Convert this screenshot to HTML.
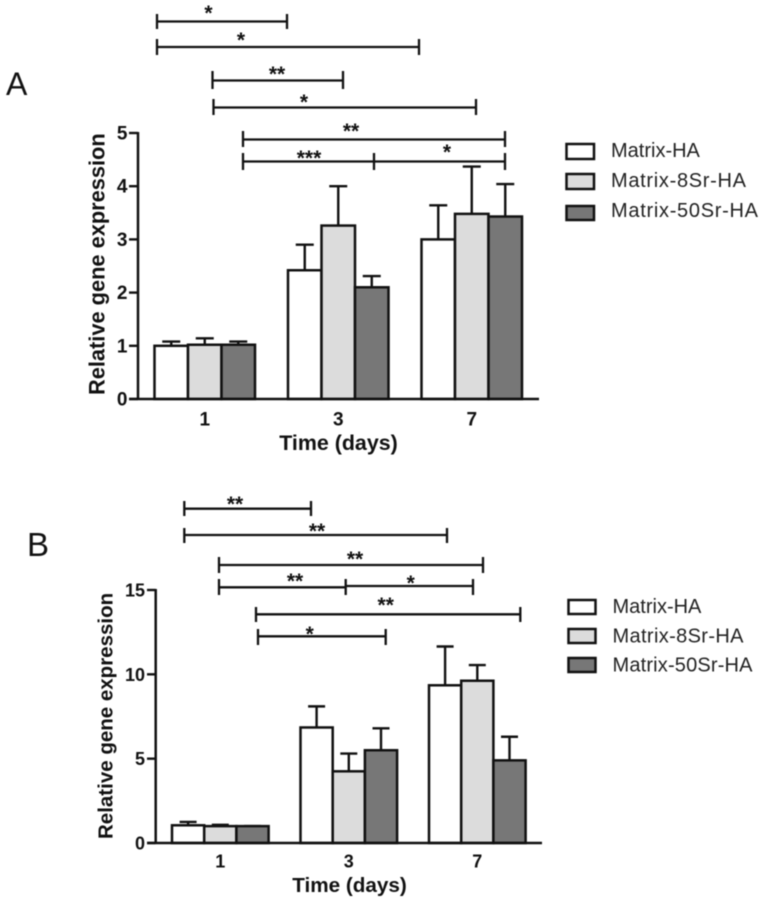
<!DOCTYPE html>
<html lang="en">
<head>
<meta charset="utf-8">
<title>Relative gene expression</title>
<style>
html,body{margin:0;padding:0;background:#fff;width:766px;height:903px;overflow:hidden}
svg{display:block;filter:blur(.45px)}
text{font-family:"Liberation Sans",Arial,sans-serif;fill:#111}
.b{font-weight:bold}
.br{fill:none;stroke:#111;stroke-width:2.300}
.st{font-size:21px;text-anchor:middle;font-weight:bold}
.leg{font-size:20px;fill:#222}
</style>
</head>
<body>
<svg id="figure" width="766" height="903" viewBox="0 0 766 903" xmlns="http://www.w3.org/2000/svg">
  <g id="panelA">
    <text x="6" y="95" font-size="32">A</text>
    <g><path class="br" d="M157 14V29M157 21.5H287M287 14V29"/><text class="st" x="208.5" y="20">*</text></g>
    <g><path class="br" d="M157 39V55M157 47H419M419 39V55"/><text class="st" x="241" y="47">*</text></g>
    <g><path class="br" d="M212.500 71V89M212.500 80.500H343M343 71V89"/><text class="st" x="277" y="81">**</text></g>
    <g><path class="br" d="M213.500 99V115M213.500 107.500H476M476 99V115"/><text class="st" x="304" y="109">*</text></g>
    <g><path class="br" d="M243 131V147M243 139.500H505M505 131V147"/><text class="st" x="351" y="138">**</text></g>
    <g><path class="br" d="M243 153V170M243 161.500H374M374 153V170"/><text class="st" x="309" y="165">***</text></g>
    <g><path class="br" d="M374 161.500H505M505 153V170"/><text class="st" x="447" y="159">*</text></g>
    <g id="plotA"></g>
    <text class="b" font-size="21.800" transform="translate(104.500 395) rotate(-90)">Relative gene expression</text>
    <text class="b" font-size="21.400" x="338.500" y="450" text-anchor="middle">Time (days)</text>
    <g>
      <g><rect x="566.500" y="144" width="27.500" height="15" fill="#fff" stroke="#111" stroke-width="2.500"/><text class="leg" x="611" y="157">Matrix-HA</text></g>
      <g><rect x="566.500" y="174" width="27.500" height="15" fill="#dcdcdc" stroke="#111" stroke-width="2.500"/><text class="leg" x="611" y="187" textLength="135">Matrix-8Sr-HA</text></g>
      <g><rect x="566.500" y="206" width="27.500" height="14" fill="#777" stroke="#111" stroke-width="2.500"/><text class="leg" x="611" y="217" textLength="147">Matrix-50Sr-HA</text></g>
    </g>
  </g>
  <g id="panelB">
    <text x="27" y="556" font-size="33">B</text>
    <g><path class="br" d="M184.300 501V516M184.300 508.700H311M311 501V516"/><text class="st" x="235" y="511">**</text></g>
    <g><path class="br" d="M184.300 528V543M184.300 535H447M447 528V543"/><text class="st" x="317" y="538">**</text></g>
    <g><path class="br" d="M219 557V573M219 565H483M483 557V573"/><text class="st" x="355" y="566">**</text></g>
    <g><path class="br" d="M219 579V595M219 587.300H345.700M345.700 579V595"/><text class="st" x="295" y="588">**</text></g>
    <g><path class="br" d="M345.700 586H473M473 579V595"/><text class="st" x="410.700" y="590">*</text></g>
    <g><path class="br" d="M256 607V622M256 614.300H520.300M520.300 607V622"/><text class="st" x="385.700" y="612">**</text></g>
    <g><path class="br" d="M258 629V645M258 636.300H385.700M385.700 629V645"/><text class="st" x="309.700" y="641">*</text></g>
    <g id="plotB"></g>
    <text class="b" font-size="20.500" transform="translate(112.700 839) rotate(-90)">Relative gene expression</text>
    <text class="b" font-size="20.700" x="349.500" y="892" text-anchor="middle">Time (days)</text>
    <g>
      <g><rect x="568.500" y="600" width="27" height="14" fill="#fff" stroke="#111" stroke-width="2.500"/><text class="leg" x="612.500" y="613">Matrix-HA</text></g>
      <g><rect x="568.500" y="629" width="27" height="14" fill="#dcdcdc" stroke="#111" stroke-width="2.500"/><text class="leg" x="612.500" y="642.700" textLength="131">Matrix-8Sr-HA</text></g>
      <g><rect x="568.500" y="658" width="27" height="14" fill="#777" stroke="#111" stroke-width="2.500"/><text class="leg" x="612.500" y="671.700" textLength="140">Matrix-50Sr-HA</text></g>
    </g>
  </g>
</svg>
<script>
const categories = ['1', '3', '7'];
const seriesNames = ['matrix-ha', 'matrix-8sr-ha', 'matrix-50sr-ha'];
const seriesColors = ['#ffffff', '#dcdcdc', '#777777'];

const ticksA = [0, 1, 2, 3, 4, 5];
const matrixHaA = [1.0, 2.42, 3.0];
const matrix8SrHaA = [1.02, 3.26, 3.48];
const matrix50SrHaA = [1.02, 2.1, 3.43];
const errorHaA = [0.08, 0.48, 0.64];
const error8SrHaA = [0.12, 0.74, 0.89];
const error50SrHaA = [0.06, 0.21, 0.61];

const ticksB = [0, 5, 10, 15];
const matrixHaB = [1.05, 6.85, 9.35];
const matrix8SrHaB = [1.0, 4.25, 9.62];
const matrix50SrHaB = [1.0, 5.5, 4.9];
const errorHaB = [0.2, 1.25, 2.3];
const error8SrHaB = [0.08, 1.05, 0.93];
const error50SrHaB = [0.0, 1.3, 1.4];

const SVG_NS = 'http://www.w3.org/2000/svg';

function make(parent, tag, attrs) {
  const el = document.createElementNS(SVG_NS, tag);
  for (const k in attrs) el.setAttribute(k, attrs[k]);
  parent.appendChild(el);
  return el;
}

function drawPlot(cfg) {
  const root = document.getElementById(cfg.id);
  const yScale = v => cfg.y0 - (v / cfg.maxY) * (cfg.y0 - cfg.yTop);
  const xScale = (g, s) => cfg.groupLeft + g * cfg.groupStep + s * cfg.barW;
  const ink = '#111';

  cfg.series.forEach((vals, s) => {
    vals.forEach((v, g) => {
      const x = xScale(g, s);
      const top = yScale(v);
      const errTop = yScale(v + cfg.errors[s][g]);
      const mid = x + cfg.barW / 2;

      const err = make(root, 'path', {
        d: 'M' + mid + ' ' + top + 'V' + errTop + 'M' + (mid - cfg.cap) + ' ' + errTop + 'H' + (mid + cfg.cap),
        fill: 'none', stroke: ink, 'stroke-width': 2.4
      });
      
      

      const bar = make(root, 'rect', {
        x: x, y: top, width: cfg.barW, height: cfg.y0 - top,
        fill: seriesColors[s], stroke: ink, 'stroke-width': 2.5
      });
      
      
    });
  });

  const yAxis = make(root, 'line', {
    x1: cfg.axisX, x2: cfg.axisX, y1: yScale(cfg.maxY) - 1, y2: cfg.y0,
    stroke: ink, 'stroke-width': 2.5
  });
  
  

  const xAxis = make(root, 'line', {
    x1: cfg.tickLeft, x2: cfg.axisEnd, y1: cfg.y0, y2: cfg.y0,
    stroke: ink, 'stroke-width': 2.5
  });
  
  

  cfg.ticks.forEach(t => {
    const y = yScale(t);
    const tick = make(root, 'line', {
      x1: cfg.tickLeft, x2: cfg.axisX, y1: y, y2: y,
      stroke: ink, 'stroke-width': 2.4
    });
    
    

    const label = make(root, 'text', {
      x: cfg.tickLabelX, y: y + 6.5, 'text-anchor': 'end',
      'font-size': cfg.tickFont, 'font-weight': 'bold'
    });
    label.textContent = String(t);
    
    
  });

  categories.forEach((c, g) => {
    const label = make(root, 'text', {
      x: xScale(g, 1.5), y: cfg.catY, 'text-anchor': 'middle',
      'font-size': cfg.tickFont, 'font-weight': 'bold'
    });
    label.textContent = c;
    
    
  });
}

drawPlot({
  id: 'plotA',
  series: [matrixHaA, matrix8SrHaA, matrix50SrHaA],
  errors: [errorHaA, error8SrHaA, error50SrHaA],
  ticks: ticksA, maxY: 5, y0: 399, yTop: 133,
  axisX: 138, tickLeft: 129, axisEnd: 539, tickLabelX: 127.5,
  groupLeft: 154.5, groupStep: 133.5, barW: 33.5, cap: 9,
  catY: 425.7, tickFont: 19
});

drawPlot({
  id: 'plotB',
  series: [matrixHaB, matrix8SrHaB, matrix50SrHaB],
  errors: [errorHaB, error8SrHaB, error50SrHaB],
  ticks: ticksB, maxY: 15, y0: 843, yTop: 590,
  axisX: 155.7, tickLeft: 147, axisEnd: 542, tickLabelX: 145,
  groupLeft: 172, groupStep: 128.5, barW: 32.2, cap: 8.5,
  catY: 867.7, tickFont: 18
});
</script>
</body>
</html>
